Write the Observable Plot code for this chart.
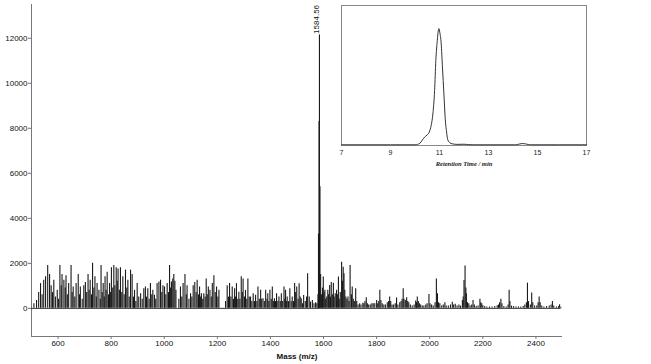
<!DOCTYPE html>
<html>
<head>
<meta charset="utf-8">
<script src="https://cdn.jsdelivr.net/npm/d3@7"></script>
<script src="https://cdn.jsdelivr.net/npm/@observablehq/plot@0.6"></script>
<style>
  html, body { margin: 0; padding: 0; background: #fff; }
  #wrap { position: relative; width: 651px; height: 364px; }
  #inset { position: absolute; left: 331px; top: 0px; }
  #main [aria-label="x-axis label"] text { font-weight: bold; }
  #inset [aria-label="x-axis label"] text { font-family: "Liberation Serif", serif; font-style: italic; font-weight: bold; font-size: 6.5px; }
</style>
</head>
<body>
<div id="wrap"><div id="main"></div><div id="inset"></div></div>
<script>
// ---- Mass spectrum (m/z, intensity) ----
const masses = [
 509,519,527,534,540,546,553,561,568,574,579,584,590,597,602,607,612,615,622,627,630,635,640,649,653,657,663,668,676,681,684,691,697,703,708,713,717,721,726,730,735,739,744,747,754,759,762,766,770,774,777,781,785,790,794,797,801,806,810,814,819,823,826,831,835,840,844,849,854,859,863,868,873,879,884,888,893,898,904,911,917,923,929,933,938,943,948,953,957,963,968,973,980,986,991,995,1001,1006,1011,1016,1020,1024,1027,1032,1036,1040,1044,
 1055,1061,1066,1071,1078,1083,1086,1093,1099,1104,1109,1115,1120,1124,1129,1133,1137,1140,1145,1149,1154,1158,1162,1166,1172,1177,1181,1187,1192,1197,1202,1206,
 1231,1237,1242,1246,1251,1256,1261,1265,1268,1272,1277,1281,1285,1290,1294,1297,1302,1306,1311,1315,1320,1325,1330,1335,1340,1344,1349,1353,1358,1363,1367,1372,1377,1382,1387,1390,1394,1398,1403,1407,1412,1415,1419,1423,1428,1432,1437,1441,1446,1451,1454,1457,1461,1463,1468,1473,1478,1482,1487,1491,1495,1499,1504,1508,1512,1516,1521,1525,1531,1536,1540,1546,1551,1558,1564,1570,1575,
 1579,1581,1583,1584.56,1586.5,1589,1592,
 1596,1599,1602,1605,1608,1612,1616,1619,1623,1626,1629,1633,1637,1640,1644,1649,1652,1656,1659,1663,1668,1671,1674,1677,1680,1684,1688,1692,1696,1700,1705,1708,1712,1716,1721,1725,1730,1736,1741,1748,1752,1756,1761,1765,1770,1776,1782,1787,1793,1800,1804,1808,1812,1816,1821,1827,1833,1840,1845,1849,1853,1858,1864,1870,1875,1880,1887,1892,1896,1900,1903,1908,1913,1917,1921,1927,1934,1941,1947,1950,1953,1957,1961,1966,1972,1978,1985,1990,1997,2001,2007,2013,2020,2025,2029,2033,2038,2045,2051,2057,2062,2070,2078,2085,2090,2096,2103,2110,2116,2123,2126,2129,2133,2136,2138,2142,2147,2152,2158,2163,2168,2175,2182,2189,2192,2196,2200,2207,2215,2225,2235,2245,2254,2259,2263,2268,2272,2279,2288,2295,2299,2302,2308,2316,2325,2334,2343,2352,2358,2364,2368,2372,2379,2384,2388,2395,2403,2408,2412,2416,2422,2430,2440,2450,2457,2462,2467,2477,2485,2489,2494
];
const intensities = [
 200,350,700,1100,600,1250,1400,1900,1500,1000,700,1250,500,800,400,1900,1000,1500,1250,900,1450,600,1100,1900,700,950,500,1100,1500,600,950,400,1000,1150,700,1500,800,1250,600,2000,900,1400,500,1100,800,400,1900,700,1100,500,1400,800,1600,600,1100,700,1800,900,1900,1000,1800,1200,1750,800,1800,700,1400,600,1700,900,1250,500,1700,1500,500,800,300,1100,500,650,400,870,950,500,870,400,1100,600,800,580,400,1100,1170,1250,700,1000,950,600,1100,700,1900,900,1170,1300,1500,1200,800,
 400,950,500,1100,1500,600,1000,400,650,500,1000,1150,700,1250,600,950,500,650,400,650,500,1300,600,950,800,500,1100,1450,700,950,500,800,
 300,1000,500,1100,500,950,400,870,500,1100,400,720,400,1400,700,1300,500,800,400,1300,500,500,300,650,300,580,300,950,400,800,400,430,300,800,400,650,300,800,400,950,300,430,300,650,300,500,300,650,300,950,400,800,300,500,300,870,300,500,300,1100,700,950,400,1090,500,430,200,575,300,500,1540,500,280,350,200,250,200,
 600,3300,8300,12150,5400,1500,600,
 900,1390,700,800,400,500,800,600,1020,500,1150,600,1120,500,650,800,600,1390,400,700,2050,1200,1830,1540,800,500,400,500,300,1900,600,950,400,300,870,300,150,200,150,230,200,300,470,200,150,150,200,200,200,350,200,300,800,350,200,150,150,250,300,500,300,150,150,200,460,150,250,300,400,870,400,350,470,300,250,150,100,150,330,250,500,300,200,150,100,100,150,200,620,200,150,100,250,1310,650,250,200,100,150,250,100,100,150,270,150,180,100,150,100,350,500,1240,1880,900,650,250,200,100,150,350,150,80,100,400,250,200,120,80,60,60,60,80,120,150,250,400,200,80,60,150,800,300,100,80,60,60,60,80,150,250,1120,300,150,680,250,100,100,250,500,250,100,60,80,100,150,310,100,60,80,160,50
];
const yTicks = [0, 2000, 4000, 6000, 8000, 10000, 12000];
const xTicks = [600, 800, 1000, 1200, 1400, 1600, 1800, 2000, 2200, 2400];
const peakLabel = [{mass: 1584.56, intensity: 12150, text: "1584.56"}];

// ---- Inset chromatogram (retention time, relative response) ----
const rtTimes = [7, 9, 10.0, 10.1, 10.2, 10.29, 10.39, 10.5, 10.58, 10.66, 10.73, 10.8, 10.85, 10.91, 10.95, 10.98, 11.01, 11.07, 11.12, 11.18, 11.23, 11.29, 11.34, 11.42, 11.52, 11.72, 12.0, 12.2, 12.4, 14.1, 14.25, 14.4, 14.55, 14.7, 17];
const rtValues = [0.005, 0.005, 0.005, 0.008, 0.016, 0.036, 0.06, 0.076, 0.095, 0.143, 0.226, 0.393, 0.607, 0.75, 0.82, 0.835, 0.81, 0.726, 0.56, 0.369, 0.202, 0.095, 0.04, 0.02, 0.012, 0.008, 0.009, 0.006, 0.005, 0.005, 0.01, 0.014, 0.01, 0.005, 0.005];
const rtTicks = [7, 9, 11, 13, 15, 17];

const peaks = masses.map((m, i) => ({mass: m, intensity: intensities[i]}));
const chrom = rtTimes.map((t, i) => ({t, v: rtValues[i]}));

const main = Plot.plot({
  width: 651, height: 364,
  marginLeft: 31, marginRight: 89, marginTop: 4, marginBottom: 28,
  style: {fontFamily: "'Liberation Sans', Arial, sans-serif", fontSize: "8px", color: "#111", background: "transparent"},
  x: {domain: [500, 2500]},
  y: {domain: [-1250, 13500]},
  marks: [
    Plot.ruleX([500], {stroke: "#777"}),
    Plot.ruleY([-1250], {stroke: "#777"}),
    Plot.axisY({ticks: yTicks, tickSize: 3, tickPadding: 1, label: null, stroke: "#777", tickFormat: d => String(d)}),
    Plot.axisX({ticks: xTicks, tickSize: 3, tickPadding: 1, stroke: "#777", tickFormat: d => String(d),
      label: "Mass (m/z)", labelAnchor: "center", labelArrow: "none", labelOffset: 22}),
    Plot.ruleY([0], {x1: 500, x2: 2495, stroke: "#333", strokeWidth: 1}),
    Plot.ruleX(peaks, {x: "mass", y1: 0, y2: "intensity", stroke: "#1a1a1a", strokeWidth: 1.1}),
    Plot.text(peakLabel, {x: "mass", y: "intensity", text: "text", rotate: -90, textAnchor: "start", lineAnchor: "bottom", dy: -1, fill: "#111", fontSize: 8})
  ]
});
document.getElementById("main").appendChild(main);

const inset = Plot.plot({
  width: 265, height: 170,
  marginLeft: 10, marginRight: 10, marginTop: 5, marginBottom: 25,
  style: {fontFamily: "'Liberation Sans', Arial, sans-serif", fontSize: "7px", color: "#222", background: "white"},
  x: {domain: [7, 17]},
  y: {domain: [0, 1], axis: null},
  marks: [
    Plot.frame({stroke: "#888"}),
    Plot.line(chrom, {x: "t", y: "v", stroke: "#333", strokeWidth: 1, curve: "monotone-x"}),
    Plot.axisX({ticks: rtTicks, tickSize: 0, tickPadding: 5, tickFormat: d => String(d),
      label: "Retention Time / min", labelAnchor: "center", labelArrow: "none", labelOffset: 20})
  ]
});
document.getElementById("inset").appendChild(inset);
</script>
</body>
</html>
